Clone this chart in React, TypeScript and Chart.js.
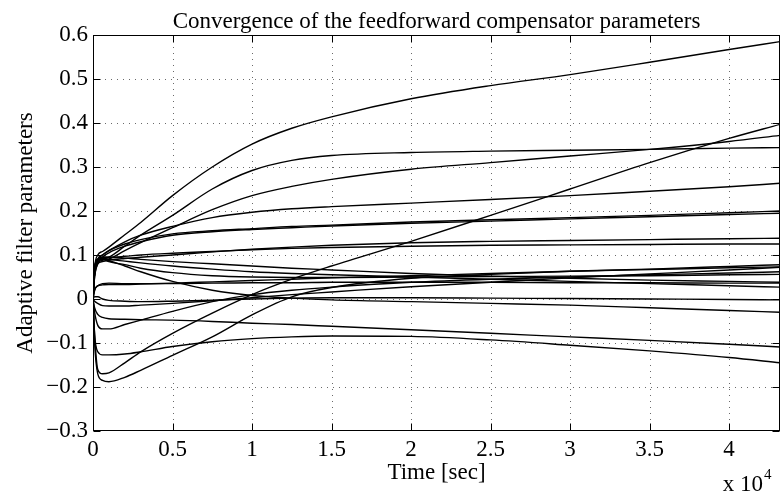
import React, { useEffect, useRef } from "react";
import { Chart, registerables } from "chart.js";

Chart.register(...registerables);

// time samples (seconds)
const T = [0, 100, 300, 600, 1000, 2000, 3000, 5000, 7500, 10000, 12500, 15000, 20000, 25000, 30000, 35000, 40000, 43200];

// parameter trajectories
const p1 = [0, 0.07, 0.1, 0.108, 0.118, 0.146, 0.174, 0.235, 0.3, 0.352, 0.388, 0.414, 0.455, 0.485, 0.51, 0.538, 0.567, 0.585];
const p2 = [0, 0.06, 0.085, 0.09, 0.095, 0.12, 0.145, 0.19, 0.25, 0.292, 0.315, 0.326, 0.333, 0.336, 0.338, 0.34, 0.343, 0.344];
const p3 = [0, 0.06, 0.082, 0.088, 0.091, 0.11, 0.128, 0.162, 0.203, 0.235, 0.256, 0.272, 0.295, 0.31, 0.325, 0.34, 0.358, 0.372];
const p4 = [0, 0.06, 0.09, 0.1, 0.11, 0.13, 0.145, 0.165, 0.185, 0.197, 0.205, 0.21, 0.218, 0.226, 0.235, 0.245, 0.255, 0.263];
const p5 = [0, 0.06, 0.09, 0.1, 0.11, 0.125, 0.135, 0.148, 0.155, 0.16, 0.165, 0.168, 0.175, 0.18, 0.185, 0.19, 0.196, 0.2];
const p6 = [0, 0.05, 0.08, 0.095, 0.105, 0.12, 0.13, 0.145, 0.153, 0.158, 0.162, 0.166, 0.172, 0.177, 0.182, 0.187, 0.192, 0.195];
const p7 = [0, 0.05, 0.08, 0.085, 0.088, 0.092, 0.095, 0.1, 0.107, 0.113, 0.118, 0.122, 0.128, 0.131, 0.133, 0.135, 0.137, 0.138];
const p8 = [0, 0.06, 0.09, 0.095, 0.095, 0.097, 0.1, 0.104, 0.108, 0.112, 0.115, 0.117, 0.12, 0.122, 0.123, 0.124, 0.125, 0.125];
const p9 = [0, 0.07, 0.09, 0.092, 0.09, 0.086, 0.082, 0.075, 0.068, 0.062, 0.058, 0.055, 0.05, 0.045, 0.04, 0.035, 0.03, 0.027];
const p10 = [0, 0.07, 0.09, 0.09, 0.085, 0.078, 0.07, 0.06, 0.053, 0.05, 0.049, 0.049, 0.05, 0.051, 0.052, 0.053, 0.055, 0.056];
const p11 = [0, 0.06, 0.085, 0.09, 0.087, 0.075, 0.062, 0.04, 0.02, 0.008, 0.002, -0.002, -0.006, -0.01, -0.014, -0.02, -0.026, -0.03];
const p12 = [0, 0.02, 0.03, 0.035, 0.036, 0.035, 0.035, 0.035, 0.036, 0.037, 0.037, 0.038, 0.038, 0.038, 0.037, 0.037, 0.036, 0.036];
const p13 = [0, -0.005, -0.01, -0.015, -0.016, -0.016, -0.014, -0.01, -0.004, 0.003, 0.01, 0.016, 0.028, 0.038, 0.048, 0.057, 0.066, 0.072];
const p14 = [0, 0.005, 0.005, 0.0, -0.003, -0.005, -0.006, -0.005, -0.003, 0.0, 0.002, 0.003, 0.003, 0.002, 0.001, 0.0, -0.001, -0.002];
const p15 = [0, -0.02, -0.035, -0.042, -0.045, -0.046, -0.047, -0.048, -0.051, -0.055, -0.058, -0.062, -0.07, -0.078, -0.086, -0.094, -0.103, -0.109];
const p16 = [0, -0.08, -0.12, -0.127, -0.127, -0.125, -0.12, -0.108, -0.097, -0.09, -0.086, -0.084, -0.085, -0.093, -0.105, -0.118, -0.133, -0.145];
const p17 = [0, -0.03, -0.06, -0.068, -0.068, -0.058, -0.048, -0.028, -0.006, 0.01, 0.02, 0.027, 0.038, 0.045, 0.05, 0.055, 0.059, 0.062];
const p18 = [0, -0.08, -0.16, -0.17, -0.168, -0.145, -0.12, -0.078, -0.032, 0.01, 0.045, 0.075, 0.131, 0.19, 0.25, 0.31, 0.365, 0.397];
const p19 = [0, -0.1, -0.17, -0.185, -0.188, -0.178, -0.162, -0.128, -0.086, -0.036, 0.005, 0.026, 0.047, 0.056, 0.063, 0.068, 0.074, 0.078];
const p20 = [0, 0.07, 0.09, 0.095, 0.095, 0.093, 0.09, 0.085, 0.08, 0.075, 0.07, 0.066, 0.058, 0.052, 0.047, 0.043, 0.04, 0.038];
const p21 = [0, 0.02, 0.03, 0.032, 0.033, 0.033, 0.034, 0.036, 0.039, 0.042, 0.045, 0.048, 0.053, 0.058, 0.063, 0.067, 0.071, 0.073];

const SERIES = [p1, p2, p3, p4, p5, p6, p7, p8, p9, p10, p11, p12, p13, p14, p15, p16, p17, p18, p19, p20, p21];

const TITLE = "Convergence of the feedforward compensator parameters";
const X_TITLE = "Time [sec]";
const Y_TITLE = "Adaptive filter parameters";
const X_MIN = 0;
const X_MAX = 43200;
const X_STEP = 5000;
const Y_MIN = -0.3;
const Y_MAX = 0.6;
const Y_STEP = 0.1;

const FONT = "'Liberation Serif', 'Times New Roman', serif";
const FS = 23;

const fmtX = (v: number) => String(Math.round(v / 1000) / 10);
const fmtY = (v: number) => {
  const r = Math.round(v * 10) / 10;
  if (r === 0) return "0";
  return r < 0 ? "\u2212" + Math.abs(r).toFixed(1) : r.toFixed(1);
};

const gridPlugin = {
  id: "matlabGrid",
  beforeDatasetsDraw(chart: any) {
    const { ctx, chartArea: a, scales } = chart;
    const x = scales.x;
    const y = scales.y;
    ctx.save();
    ctx.strokeStyle = "#6a6a6a";
    ctx.lineWidth = 1;
    ctx.setLineDash([1, 5]);
    for (let v = X_MIN + X_STEP; v < X_MAX; v += X_STEP) {
      const px = Math.round(x.getPixelForValue(v)) + 0.5;
      ctx.beginPath();
      ctx.moveTo(px, a.top);
      ctx.lineTo(px, a.bottom);
      ctx.stroke();
    }
    for (let i = 1; i < Math.round((Y_MAX - Y_MIN) / Y_STEP); i++) {
      const v = Y_MIN + i * Y_STEP;
      const py = Math.round(y.getPixelForValue(v)) + 0.5;
      ctx.beginPath();
      ctx.moveTo(a.left, py);
      ctx.lineTo(a.right, py);
      ctx.stroke();
    }
    ctx.restore();
  },
  afterDraw(chart: any) {
    const { ctx, chartArea: a, scales } = chart;
    const x = scales.x;
    const y = scales.y;
    ctx.save();
    ctx.strokeStyle = "#000";
    ctx.lineWidth = 1;
    ctx.setLineDash([]);
    const L = Math.round(a.left) + 0.5;
    const R = Math.round(a.right) - 0.5;
    const Tp = Math.round(a.top) + 0.5;
    const B = Math.round(a.bottom) - 0.5;
    ctx.strokeRect(L, Tp, R - L, B - Tp);
    const tl = 7;
    ctx.beginPath();
    for (let v = X_MIN; v <= X_MAX; v += X_STEP) {
      const px = Math.round(x.getPixelForValue(v)) + 0.5;
      ctx.moveTo(px, B);
      ctx.lineTo(px, B - tl);
      ctx.moveTo(px, Tp);
      ctx.lineTo(px, Tp + tl);
    }
    for (let i = 0; i <= Math.round((Y_MAX - Y_MIN) / Y_STEP); i++) {
      const v = Y_MIN + i * Y_STEP;
      const py = Math.round(y.getPixelForValue(v)) + 0.5;
      ctx.moveTo(L, py);
      ctx.lineTo(L + tl, py);
      ctx.moveTo(R, py);
      ctx.lineTo(R - tl, py);
    }
    ctx.stroke();

    ctx.fillStyle = "#000";
    ctx.font = `${FS}px ${FONT}`;
    ctx.textAlign = "center";
    ctx.textBaseline = "alphabetic";
    const cx = (a.left + a.right) / 2;
    ctx.fillText(TITLE, cx, 28);
    ctx.fillText(X_TITLE, cx, 479);

    ctx.save();
    ctx.translate(32, (a.top + a.bottom) / 2);
    ctx.rotate(-Math.PI / 2);
    ctx.fillText(Y_TITLE, 0, 0);
    ctx.restore();

    ctx.textAlign = "right";
    ctx.fillText("x 10", 763, 491);
    ctx.textAlign = "left";
    ctx.font = `15px ${FONT}`;
    ctx.fillText("4", 764, 479);
    ctx.restore();
  },
};

export default function App() {
  const ref = useRef<HTMLCanvasElement | null>(null);

  useEffect(() => {
    if (!ref.current) return;
    const datasets = SERIES.map((s, i) => ({
      label: "p" + (i + 1),
      data: T.map((t, k) => ({ x: t, y: s[k] })),
      borderColor: "#000",
      borderWidth: 1.4,
      pointRadius: 0,
      fill: false,
      cubicInterpolationMode: "monotone" as const,
    }));
    const chart = new Chart(ref.current, {
      type: "line",
      data: { datasets },
      options: {
        animation: false,
        responsive: false,
        layout: { padding: { top: 35, right: 1, left: 0, bottom: 0 } },
        plugins: {
          legend: { display: false },
          tooltip: { enabled: false },
          title: { display: false },
        },
        scales: {
          x: {
            type: "linear",
            min: X_MIN,
            max: X_MAX,
            afterFit: (s: any) => {
              s.height = 68;
            },
            afterBuildTicks: (s: any) => {
              const t = [];
              for (let v = X_MIN; v <= X_MAX; v += X_STEP) t.push({ value: v });
              s.ticks = t;
            },
            ticks: {
              callback: (v: any) => fmtX(Number(v)),
              color: "#000",
              font: { family: FONT, size: FS },
              padding: 5,
              maxRotation: 0,
              autoSkip: false,
            },
            grid: { display: false, drawTicks: false },
            border: { display: false },
          },
          y: {
            type: "linear",
            min: Y_MIN,
            max: Y_MAX,
            afterFit: (s: any) => {
              s.width = 93;
            },
            afterBuildTicks: (s: any) => {
              const t = [];
              for (let i = 0; i <= Math.round((Y_MAX - Y_MIN) / Y_STEP); i++) t.push({ value: Y_MIN + i * Y_STEP });
              s.ticks = t;
            },
            ticks: {
              callback: (v: any) => fmtY(Number(v)),
              color: "#000",
              font: { family: FONT, size: FS },
              padding: 5,
              autoSkip: false,
            },
            grid: { display: false, drawTicks: false },
            border: { display: false },
          },
        },
      },
      plugins: [gridPlugin],
    });
    return () => chart.destroy();
  }, []);

  return (
    <div style={{ position: "fixed", left: 0, top: 0, width: 781, height: 499, background: "#fff" }}>
      <canvas ref={ref} width={781} height={499} style={{ display: "block" }} />
    </div>
  );
}
